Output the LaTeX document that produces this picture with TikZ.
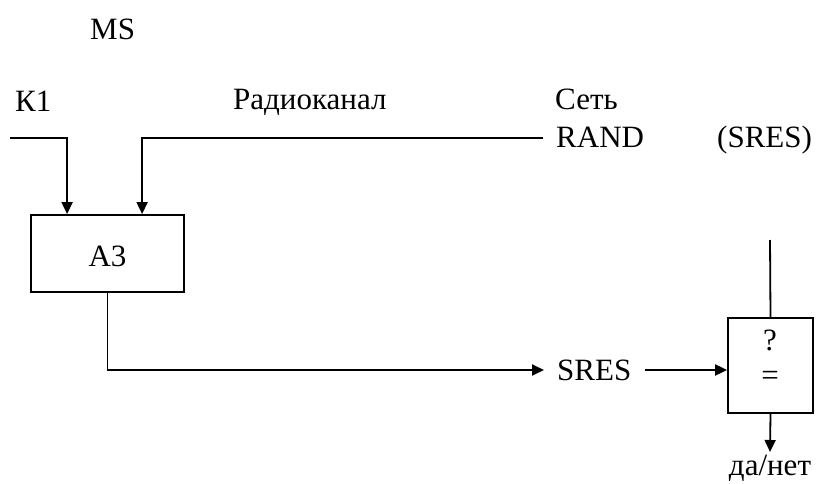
\documentclass[tikz,border=0pt]{standalone}
\usepackage{fontspec}
\setmainfont{Liberation Serif}
\usetikzlibrary{arrows.meta}
\begin{document}
\begin{tikzpicture}[x=1pt,y=-1pt,
  txt/.style={font=\fontsize{31}{36}\selectfont, inner sep=0pt},
  blk/.style={draw, line width=1.8pt, inner sep=0pt},
  wire/.style={line width=1.8pt},
  arr/.style={line width=1.8pt, -{Triangle[length=12pt,width=11pt]}}]
\useasboundingbox (0,0) rectangle (821,484);
% texts
\node[txt, anchor=base west] (ms) at (90,40) {MS};
\node[txt, anchor=base west] (k1) at (15,111) {К1};
\node[txt, anchor=base west] (radio) at (233,110) {Радиоканал};
\node[txt, anchor=base west] (set) at (555,110) {Сеть};
\node[txt, anchor=base west] (rand) at (556,147) {RAND};
\node[txt, anchor=base west] (sresp) at (717,147) {(SRES)};
% blocks
\node[blk, minimum width=153pt, minimum height=77pt] (a3) at (107.5,253.5) {};
\node[txt] (a3t) at (107.5,256) {A3};
\node[blk, minimum width=85pt, minimum height=95pt] (cmp) at (770.5,365.5) {};
\node[txt] (q) at (770,340) {?};
\node[txt] (eq) at (770,378) {=};
\node[txt, inner xsep=13pt, anchor=west] (sres) at (544,370) {SRES};
\node[txt, anchor=north] (yn) at (770,455) {да/нет};
% coordinates
\coordinate (k1in) at (10,138);
\coordinate (rin) at (543,138);
\coordinate (top) at (770,240);
\coordinate (yno) at (770,452);
% connectors
\draw[arr] (k1in) -| ([xshift=37pt]a3.north west);
\draw[arr] (rin) -| ([xshift=112pt]a3.north west);
\draw[arr] (a3.south) |- (sres.west);
\draw[arr] (sres.east) -- (cmp.west |- sres.east);
\draw[wire] (top) -- (cmp.north);
\draw[arr] (cmp.south) -- (yno);
\end{tikzpicture}
\end{document}
